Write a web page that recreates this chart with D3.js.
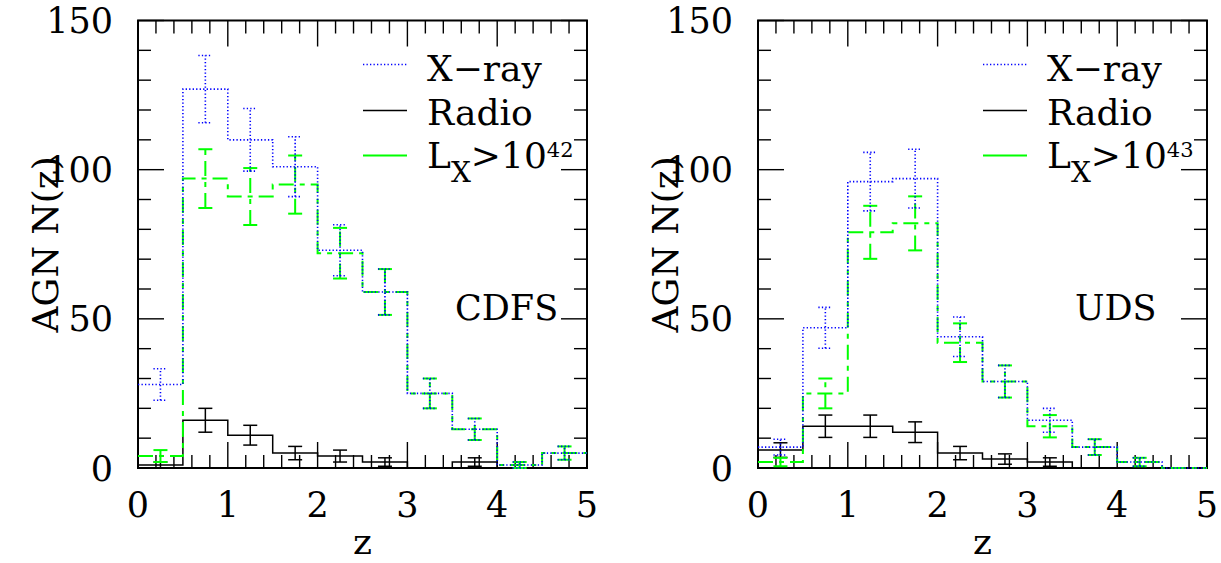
<!doctype html>
<html>
    <head>
        <script src="https://d3js.org/d3.v7.min.js"></script>
        <style>
            body,
            html {
                margin: 0;
                padding: 0;
                overflow: hidden;
                background: #fff;
            }
        </style>
    </head>
    <body>
        <script>
            // redshift bins and counts
            const binEdges = [0, 0.5, 1, 1.5, 2, 2.5, 3, 3.5, 4, 4.5, 5];
            const cdfsXray = [28, 127, 110, 101, 73, 59, 25, 13, 1, 5];
            const cdfsRadio = [1, 16, 11, 5, 4, 2, 0, 2, 0, 0];
            const cdfsLx42 = [4, 97, 91, 95, 72, 59, 25, 13, 1, 5];
            const udsXray = [7, 47, 96, 97, 44, 29, 16, 7, 2, 0];
            const udsRadio = [6, 14, 14, 12, 5, 3, 2, 0, 0, 0];
            const udsLx43 = [2, 25, 79, 82, 42, 29, 14, 7, 2, 0];
            const xTickLabels = [0, 1, 2, 3, 4, 5];
            const yTickLabels = [0, 50, 100, 150];

            const width = 1221;
            const height = 563;
            const pw = 449;
            const ph = 447.5;
            const font = "DejaVu Serif";

            const svg = d3
                .create("svg")
                .attr("width", width)
                .attr("height", height)
                .attr("viewBox", [0, 0, width, height]);

            const x = d3.scaleLinear().domain([0, 5]).range([0, pw]);
            const y = d3.scaleLinear().domain([0, 150]).range([ph, 0]);

            const styles = {
                xray: { color: "#0000ff", dash: "1.3,2.2", w: 1.6 },
                radio: { color: "#000", dash: null, w: 1.5 },
                lx: { color: "#00ff00", dash: "15,6,5,6", w: 2 },
            };

            const panels = [
                {
                    left: 138,
                    name: "CDFS",
                    xray: cdfsXray,
                    radio: cdfsRadio,
                    lx: cdfsLx42,
                    exp: "42",
                },
                {
                    left: 758,
                    name: "UDS",
                    xray: udsXray,
                    radio: udsRadio,
                    lx: udsLx43,
                    exp: "43",
                },
            ];

            const line = d3
                .line()
                .x((d) => x(d[0]))
                .y((d) => y(d[1]));

            function steps(vals) {
                const pts = [];
                vals.forEach((v, i) => {
                    pts.push([binEdges[i], v]);
                    pts.push([binEdges[i + 1], v]);
                });
                return pts;
            }

            panels.forEach((p) => {
                const g = svg
                    .append("g")
                    .attr("transform", `translate(${p.left},20.5)`);

                // ticks, inward on all four sides
                const ticks = g
                    .append("g")
                    .attr("stroke", "#000")
                    .attr("stroke-width", 1.4);
                x.ticks(25).forEach((t) => {
                    const len = Math.abs(t - Math.round(t)) < 1e-6 ? 26 : 13;
                    ticks.append("line")
                        .attr("x1", x(t))
                        .attr("x2", x(t))
                        .attr("y1", ph)
                        .attr("y2", ph - len);
                    ticks.append("line")
                        .attr("x1", x(t))
                        .attr("x2", x(t))
                        .attr("y1", 0)
                        .attr("y2", len);
                });
                y.ticks(15).forEach((t) => {
                    const len = t % 50 === 0 ? 26 : 13;
                    ticks.append("line")
                        .attr("x1", 0)
                        .attr("x2", len)
                        .attr("y1", y(t))
                        .attr("y2", y(t));
                    ticks.append("line")
                        .attr("x1", pw)
                        .attr("x2", pw - len)
                        .attr("y1", y(t))
                        .attr("y2", y(t));
                });

                g.append("rect")
                    .attr("width", pw)
                    .attr("height", ph)
                    .attr("fill", "none")
                    .attr("stroke", "#000")
                    .attr("stroke-width", 2);

                // tick labels
                g.selectAll("text.xl")
                    .data(xTickLabels)
                    .join("text")
                    .attr("x", (d) => x(d))
                    .attr("y", ph + 49)
                    .attr("text-anchor", "middle")
                    .attr("font-family", font)
                    .attr("font-size", 35)
                    .text((d) => d);
                g.selectAll("text.yl")
                    .data(yTickLabels)
                    .join("text")
                    .attr("x", -25)
                    .attr("y", (d) => y(d) + 12.5)
                    .attr("text-anchor", "end")
                    .attr("font-family", font)
                    .attr("font-size", 35)
                    .text((d) => d);

                g.append("text")
                    .attr("x", pw / 2)
                    .attr("y", ph + 86)
                    .attr("text-anchor", "middle")
                    .attr("font-family", font)
                    .attr("font-size", 36)
                    .text("z");
                g.append("text")
                    .attr(
                        "transform",
                        `translate(${-80},${ph / 2}) rotate(-90)`
                    )
                    .attr("text-anchor", "middle")
                    .attr("font-family", font)
                    .attr("font-size", 36)
                    .text("AGN N(z)");

                // histograms with Poisson error bars
                ["radio", "lx", "xray"].forEach((key) => {
                    const s = styles[key];
                    const vals = p[key];
                    const sg = g
                        .append("g")
                        .attr("fill", "none")
                        .attr("stroke", s.color)
                        .attr("stroke-width", s.w)
                        .attr("stroke-dasharray", s.dash);
                    sg.append("path").attr("d", line(steps(vals)));
                    vals.forEach((v, i) => {
                        if (v <= 0) return;
                        const e = Math.sqrt(v);
                        const cx = x((binEdges[i] + binEdges[i + 1]) / 2);
                        sg.append("line")
                            .attr("x1", cx)
                            .attr("x2", cx)
                            .attr("y1", y(v - e))
                            .attr("y2", y(v + e));
                        [v - e, v + e].forEach((b) => {
                            sg.append("line")
                                .attr("x1", cx - 7)
                                .attr("x2", cx + 7)
                                .attr("y1", y(b))
                                .attr("y2", y(b));
                        });
                    });
                });

                // legend
                const legend = [
                    { key: "xray", ly: 44 },
                    { key: "radio", ly: 90 },
                    { key: "lx", ly: 135 },
                ];
                legend.forEach((l) => {
                    const s = styles[l.key];
                    g.append("line")
                        .attr("x1", 225)
                        .attr("x2", 269)
                        .attr("y1", l.ly)
                        .attr("y2", l.ly)
                        .attr("stroke", s.color)
                        .attr("stroke-width", s.w)
                        .attr(
                            "stroke-dasharray",
                            l.key === "xray" ? s.dash : null
                        );
                });
                g.append("text")
                    .attr("x", 289)
                    .attr("y", 60)
                    .attr("font-family", font)
                    .attr("font-size", 36)
                    .text("X\u2212ray");
                g.append("text")
                    .attr("x", 289)
                    .attr("y", 104)
                    .attr("font-family", font)
                    .attr("font-size", 36)
                    .text("Radio");
                const lt = g
                    .append("text")
                    .attr("x", 289)
                    .attr("y", 147)
                    .attr("font-family", font)
                    .attr("font-size", 36);
                lt.append("tspan").text("L");
                lt.append("tspan")
                    .attr("font-size", 28)
                    .attr("dy", 14)
                    .text("X");
                lt.append("tspan").attr("dy", -14).text(">10");
                lt.append("tspan")
                    .attr("font-size", 21)
                    .attr("dy", -11)
                    .text(p.exp);

                g.append("text")
                    .attr("x", 317)
                    .attr("y", 299.5)
                    .attr("font-family", font)
                    .attr("font-size", 35)
                    .text(p.name);
            });

            document.body.appendChild(svg.node());
        </script>
    </body>
</html>
